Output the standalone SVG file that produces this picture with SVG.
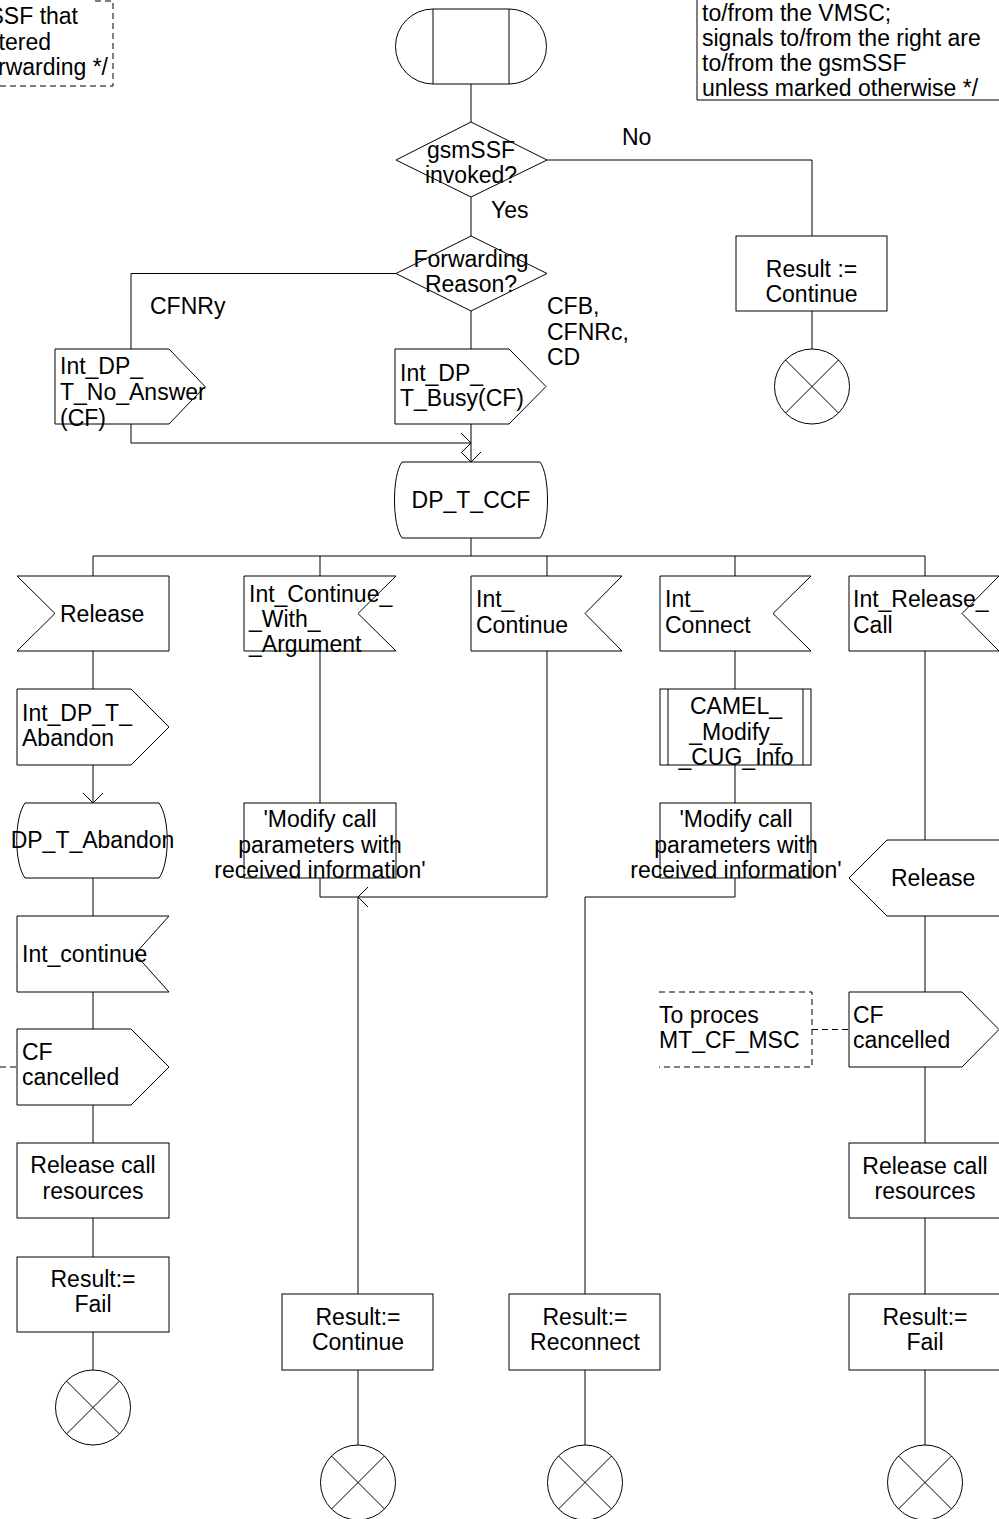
<svg xmlns="http://www.w3.org/2000/svg" width="999" height="1519" viewBox="0 0 999 1519">
<defs>
<style>
.s{fill:none;stroke:#000;stroke-width:1}
.c{fill:none;stroke:#000;stroke-width:1}
.d{fill:none;stroke:#000;stroke-width:1;stroke-dasharray:6,4}
text{font-family:"Liberation Sans",Arial,sans-serif;font-size:23px;fill:#000}
.m{text-anchor:middle}
.e{text-anchor:end}
</style>
<marker id="arr" markerUnits="userSpaceOnUse" markerWidth="24" markerHeight="24" refX="12" refY="12" orient="auto" viewBox="0 0 24 24"><path d="M2,2 L12,12 L2,22" fill="none" stroke="#000" stroke-width="1"/></marker>
</defs>
<rect x="0" y="0" width="999" height="1519" fill="#fff"/>

<g id="connectors">
<path class="c" d="M471,84 V122"/>
<path class="c" d="M547,160 H812 V236"/>
<path class="c" d="M812,311 V349"/>
<path class="c" d="M471,197 V236"/>
<path class="c" d="M396,273.5 H131 V349"/>
<path class="c" d="M471,311 V349"/>
<path class="c" d="M131,424 V443 H471" marker-end="url(#arr)"/>
<path class="c" d="M471,424 V462" marker-end="url(#arr)"/>
<path class="c" d="M471,538 V556"/>
<path class="c" d="M93,556 H925"/>
<path class="c" d="M93,556 V576 M320,556 V576 M547,556 V576 M735,556 V576 M925,556 V576"/>
<path class="c" d="M93,651 V689"/>
<path class="c" d="M93,765 V803" marker-end="url(#arr)"/>
<path class="c" d="M93,878 V916 M93,992 V1029 M93,1105 V1143 M93,1218 V1257 M93,1332 V1370"/>
<path class="c" d="M320,651 V803"/>
<path class="c" d="M320,878 V897 H358"/>
<path class="c" d="M547,651 V897 H358" marker-end="url(#arr)"/>
<path class="c" d="M358,897 V1294 M358,1370 V1445"/>
<path class="c" d="M735,651 V689 M735,765 V803"/>
<path class="c" d="M735,878 V897 H585 V1294 M585,1370 V1445"/>
<path class="c" d="M925,651 V840 M925,916 V992 M925,1067 V1143 M925,1218 V1294 M925,1370 V1445"/>
<path class="d" d="M0,1067 H17"/>
<path class="d" d="M812,1029.5 H849"/>
</g>

<g id="comment_top_left">
<path class="d" d="M95,1 H113 V86 H0"/>
<text class="e" x="78" y="24">SSF that</text>
<text class="e" x="51" y="49.5">tered</text>
<text class="e" x="108" y="75">rwarding */</text>
</g>

<g id="comment_top_right">
<path class="s" d="M1001,100 H697 V0"/>
<text x="702" y="21">to/from the VMSC;</text>
<text x="702" y="46">signals to/from the right are</text>
<text x="702" y="71">to/from the gsmSSF</text>
<text x="702" y="96">unless marked otherwise */</text>
</g>

<g id="start">
<path class="s" d="M433,9 H509 A37.5,37.5 0 0 1 509,84 H433 A37.5,37.5 0 0 1 433,9 Z M433,9 V84 M509,9 V84"/>
</g>

<g id="dec_gsmssf">
<polygon class="s" points="396,160 471,122 547,160 471,197"/>
<text class="m" x="471" y="158">gsmSSF</text>
<text class="m" x="471" y="183">invoked?</text>
</g>
<g id="lbl_no"><text x="622" y="145">No</text></g>
<g id="lbl_yes"><text x="491" y="218">Yes</text></g>

<g id="task_continue_top">
<rect class="s" x="736" y="236" width="151" height="75"/>
<text class="m" x="811.5" y="277">Result :=</text>
<text class="m" x="811.5" y="302">Continue</text>
</g>
<g id="stop_top">
<circle class="s" cx="812" cy="386.5" r="37.5"/>
<path class="s" d="M785.5,360 L838.5,413 M838.5,360 L785.5,413"/>
</g>

<g id="dec_fwd">
<polygon class="s" points="396,273.5 471,236 547,273.5 471,311"/>
<text class="m" x="471" y="267">Forwarding</text>
<text class="m" x="471" y="292">Reason?</text>
</g>
<g id="lbl_cfnry"><text x="150" y="314">CFNRy</text></g>
<g id="lbl_cfb">
<text x="547" y="314">CFB,</text>
<text x="547" y="339.5">CFNRc,</text>
<text x="547" y="365">CD</text>
</g>

<g id="out_no_answer">
<polygon class="s" points="55,349 169,349 205,386.5 169,424 55,424"/>
<text x="60" y="374">Int_DP_</text>
<text x="60" y="400">T_No_Answer</text>
<text x="60" y="425.5">(CF)</text>
</g>
<g id="out_busy">
<polygon class="s" points="395,349 509,349 546,386.5 509,424 395,424"/>
<text x="400" y="381">Int_DP_</text>
<text x="400" y="406">T_Busy(CF)</text>
</g>

<g id="state_dp_t_ccf">
<path class="s" d="M402,462 H540 C550,475 550,525 540,538 H402 C392,525 392,475 402,462 Z"/>
<text class="m" x="471" y="508">DP_T_CCF</text>
</g>

<g id="in_release">
<polygon class="s" points="17,576 169,576 169,651 17,651 55,613.5"/>
<text x="60" y="622">Release</text>
</g>
<g id="in_cont_arg">
<polygon class="s" points="244,576 396,576 358,613.5 396,651 244,651"/>
<text x="249" y="602">Int_Continue_</text>
<text x="249" y="627">_With_</text>
<text x="249" y="652">_Argument</text>
</g>
<g id="in_continue">
<polygon class="s" points="471,576 622,576 585,613.5 622,651 471,651"/>
<text x="476" y="607">Int_</text>
<text x="476" y="633">Continue</text>
</g>
<g id="in_connect">
<polygon class="s" points="660,576 811,576 773,613.5 811,651 660,651"/>
<text x="665" y="607">Int_</text>
<text x="665" y="633">Connect</text>
</g>
<g id="in_release_call">
<polygon class="s" points="849,576 999,576 962,613.5 999,651 849,651"/>
<text x="853" y="607">Int_Release_</text>
<text x="853" y="633">Call</text>
</g>

<g id="out_abandon">
<polygon class="s" points="17,689 131,689 169,727 131,765 17,765"/>
<text x="22" y="721">Int_DP_T_</text>
<text x="22" y="746">Abandon</text>
</g>
<g id="state_dp_t_abandon">
<path class="s" d="M25,803 H159 C170,818 170,863 159,878 H25 C14,863 14,818 25,803 Z"/>
<text class="m" x="92.5" y="848">DP_T_Abandon</text>
</g>
<g id="in_int_continue">
<polygon class="s" points="17,916 169,916 135,954 169,992 17,992"/>
<text x="22" y="962">Int_continue</text>
</g>
<g id="out_cf_cancelled_left">
<polygon class="s" points="17,1029 131,1029 169,1067 131,1105 17,1105"/>
<text x="22" y="1060">CF</text>
<text x="22" y="1085">cancelled</text>
</g>
<g id="task_release_left">
<rect class="s" x="17" y="1143" width="152" height="75"/>
<text class="m" x="93" y="1173">Release call</text>
<text class="m" x="93" y="1198.5">resources</text>
</g>
<g id="task_fail_left">
<rect class="s" x="17" y="1257" width="152" height="75"/>
<text class="m" x="93" y="1287">Result:=</text>
<text class="m" x="93" y="1312">Fail</text>
</g>
<g id="stop_left">
<circle class="s" cx="93" cy="1407.5" r="37.5"/>
<path class="s" d="M66.5,1381 L119.5,1434 M119.5,1381 L66.5,1434"/>
</g>

<g id="task_modify_left">
<rect class="s" x="244" y="803" width="152" height="75"/>
<text class="m" x="320" y="827">'Modify call</text>
<text class="m" x="320" y="853">parameters with</text>
<text class="m" x="320" y="878">received information'</text>
</g>
<g id="task_result_continue">
<rect class="s" x="282" y="1294" width="151" height="76"/>
<text class="m" x="358" y="1325">Result:=</text>
<text class="m" x="358" y="1350">Continue</text>
</g>
<g id="stop_continue">
<circle class="s" cx="358" cy="1482.5" r="37.5"/>
<path class="s" d="M331.5,1456 L384.5,1509 M384.5,1456 L331.5,1509"/>
</g>

<g id="proc_camel">
<rect class="s" x="660" y="689" width="151" height="76"/>
<path class="s" d="M668,689 V765 M803,689 V765"/>
<text class="m" x="736" y="714">CAMEL_</text>
<text class="m" x="736" y="740">_Modify_</text>
<text class="m" x="736" y="765">_CUG_Info</text>
</g>
<g id="task_modify_right">
<rect class="s" x="660" y="803" width="151" height="75"/>
<text class="m" x="736" y="827">'Modify call</text>
<text class="m" x="736" y="853">parameters with</text>
<text class="m" x="736" y="878">received information'</text>
</g>
<g id="task_result_reconnect">
<rect class="s" x="509" y="1294" width="151" height="76"/>
<text class="m" x="585" y="1325">Result:=</text>
<text class="m" x="585" y="1350">Reconnect</text>
</g>
<g id="stop_reconnect">
<circle class="s" cx="585" cy="1482.5" r="37.5"/>
<path class="s" d="M558.5,1456 L611.5,1509 M611.5,1456 L558.5,1509"/>
</g>

<g id="out_release_right">
<polygon class="s" points="849,878 887,840 1001,840 1001,916 887,916"/>
<text x="891" y="886">Release</text>
</g>
<g id="comment_mt_cf_msc">
<path class="d" d="M659,992 H812 V1067 H659"/>
<text x="659" y="1023">To proces</text>
<text x="659" y="1048">MT_CF_MSC</text>
</g>
<g id="out_cf_cancelled_right">
<polygon class="s" points="849,992 962,992 999,1029.5 962,1067 849,1067"/>
<text x="853" y="1023">CF</text>
<text x="853" y="1048">cancelled</text>
</g>
<g id="task_release_right">
<rect class="s" x="849" y="1143" width="152" height="75"/>
<text class="m" x="925" y="1174">Release call</text>
<text class="m" x="925" y="1199">resources</text>
</g>
<g id="task_fail_right">
<rect class="s" x="849" y="1294" width="152" height="76"/>
<text class="m" x="925" y="1325">Result:=</text>
<text class="m" x="925" y="1350">Fail</text>
</g>
<g id="stop_fail_right">
<circle class="s" cx="925" cy="1482.5" r="37.5"/>
<path class="s" d="M898.5,1456 L951.5,1509 M951.5,1456 L898.5,1509"/>
</g>
</svg>
